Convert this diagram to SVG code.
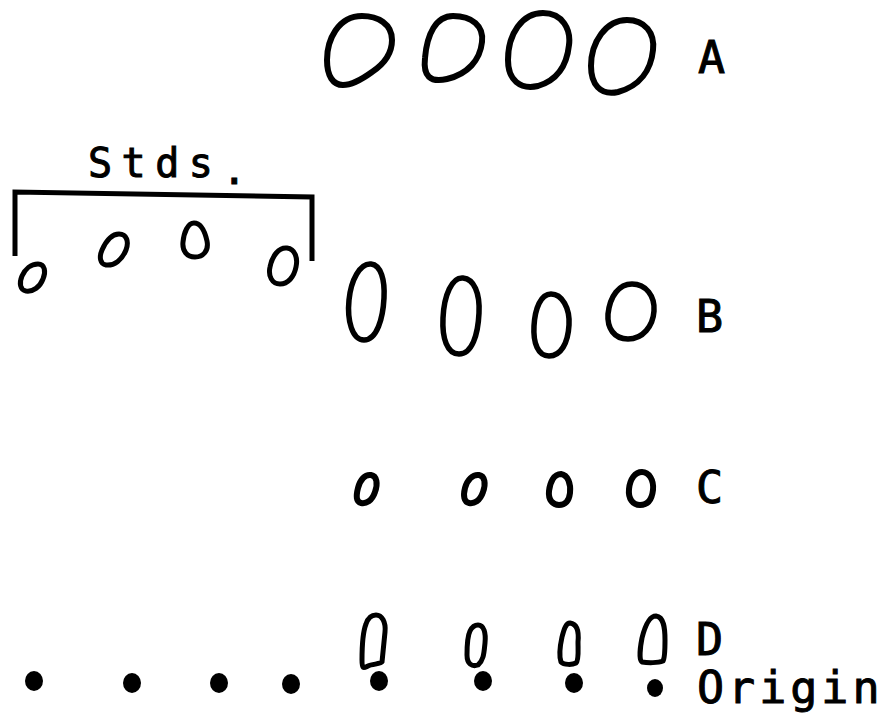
<svg xmlns="http://www.w3.org/2000/svg" width="886" height="714" viewBox="0 0 886 714">
  <style>
    .spot { fill: none; stroke: #000; stroke-linejoin: round; }
    .lg { stroke-width: 6; }
    .md { stroke-width: 5.5; }
    .th { stroke-width: 6; }
    .sm { stroke-width: 5; }
    .dot { fill: #000; }
    .lbl { font-family: "DejaVu Sans Mono", "Liberation Mono", monospace; font-size: 45px; fill: #000; stroke: #000; stroke-width: 1; letter-spacing: 4px; }
    .bracket { fill: none; stroke: #000; stroke-width: 5; stroke-linejoin: miter; }
  </style>
  <rect width="886" height="714" fill="#fff"/>

  <!-- solvent A: four large spots -->
  <g id="row-a">
    <path class="spot lg" d="M 362 16 C 378 16 392 24 392 40 C 392 54 384 64 372 72 C 361 80 352 85 343 85 C 333 85 327 76 327 60 C 327 40 338 16 362 16 Z"/>
    <path class="spot lg" d="M 453 16 C 472 16 484 26 482 42 C 480 60 468 74 447 79 C 430 83 423 76 425 58 C 427 34 436 16 453 16 Z"/>
    <path class="spot lg" d="M 543 13 C 563 13 571 30 569 45 C 567 64 558 80 538 86 C 520 90 508 80 508 60 C 508 34 522 13 543 13 Z"/>
    <path class="spot lg" d="M 627 20 C 645 20 655 33 653 50 C 651 70 640 86 618 92 C 600 96 591 84 591 66 C 591 42 606 20 627 20 Z"/>
    <text class="lbl" x="698" y="73">A</text>
  </g>

  <!-- reference standards with bracket -->
  <g id="standards">
    <text class="lbl" x="88" y="177" style="font-size:40px;letter-spacing:9.5px">Stds<tspan dy="7">.</tspan></text>
    <polyline class="bracket" points="15,256 15,192 312,197 312,261"/>
    <path class="spot sm" d="M 38 264 C 45 264 46 272 43 279 C 40 287 33 292 26 291 C 20 290 19 283 22 276 C 25 269 31 264 38 264 Z"/>
    <path class="spot sm" d="M 119 234 C 127 234 129 242 126 250 C 122 260 114 266 106 265 C 100 264 99 257 102 250 C 106 241 112 234 119 234 Z"/>
    <path class="spot sm" d="M 194 223 C 201 223 205 232 207 241 C 209 251 203 257 195 257 C 187 257 182 251 183 242 C 184 232 188 223 194 223 Z"/>
    <path class="spot sm" d="M 287 248 C 295 249 298 258 296 267 C 294 277 288 284 280 284 C 272 284 268 276 270 267 C 272 256 279 247 287 248 Z"/>
  </g>

  <!-- solvent B -->
  <g id="row-b">
    <path class="spot md" d="M 371 264 C 381 265 385 280 384 298 C 383 318 377 340 364 340 C 352 340 347 320 349 300 C 351 280 360 263 371 264 Z"/>
    <path class="spot md" d="M 463 278 C 474 279 480 293 479 313 C 478 335 472 354 459 354 C 447 354 442 338 443 318 C 444 295 452 277 463 278 Z"/>
    <path class="spot md" d="M 551 294 C 562 294 570 308 569 325 C 568 343 561 356 549 356 C 538 356 533 343 534 326 C 535 308 541 294 551 294 Z"/>
    <path class="spot md" d="M 632 284 C 646 284 655 296 654 311 C 653 326 643 339 628 339 C 614 339 607 328 608 314 C 610 296 619 284 632 284 Z"/>
    <text class="lbl" x="696" y="332">B</text>
  </g>

  <!-- solvent C -->
  <g id="row-c">
    <path class="spot th" d="M 371 475 C 377 476 378 484 375 492 C 372 501 366 504 361 503 C 356 502 356 496 358 488 C 360 480 365 474 371 475 Z"/>
    <path class="spot th" d="M 479 475 C 485 476 486 484 483 492 C 480 501 474 504 469 503 C 464 502 463 496 465 488 C 467 480 473 474 479 475 Z"/>
    <path class="spot th" d="M 561 474 C 568 475 571 484 570 493 C 569 501 565 505 559 505 C 553 505 548 500 549 491 C 550 482 554 474 561 474 Z"/>
    <path class="spot th" d="M 642 472 C 649 472 654 480 653 490 C 652 499 648 505 640 505 C 633 505 628 499 629 489 C 630 479 635 472 642 472 Z"/>
    <text class="lbl" x="696" y="503">C</text>
  </g>

  <!-- solvent D: streaked spots just above the origin -->
  <g id="row-d">
    <path class="spot sm" d="M 376 615 C 382 615 386 622 385 632 L 382 662 C 381 664 372 664 368 666 C 364 668 362 670 362 660 C 362 648 362 634 366 624 C 368 618 371 615 376 615 Z"/>
    <path class="spot sm" d="M 478 625 C 484 625 486 633 485 643 C 484 652 484 660 478 665 C 472 667 467 664 467 655 C 467 646 467 637 470 631 C 472 627 475 625 478 625 Z"/>
    <path class="spot sm" d="M 570 623 C 577 624 579 632 578 642 C 578 650 579 660 576 663 C 572 665 564 665 561 662 C 559 656 560 646 562 637 C 564 629 566 623 570 623 Z"/>
    <path class="spot sm" d="M 656 616 C 664 617 665 628 665 640 C 665 650 665 658 663 661 C 658 663 648 663 642 662 C 639 660 640 648 642 638 C 645 626 649 616 656 616 Z"/>
    <text class="lbl" x="696" y="655">D</text>
  </g>

  <!-- application points on the origin line -->
  <g id="origin">
    <ellipse class="dot" cx="34" cy="681" rx="9" ry="10"/>
    <ellipse class="dot" cx="132" cy="683" rx="9" ry="10"/>
    <ellipse class="dot" cx="219" cy="683" rx="9" ry="10"/>
    <ellipse class="dot" cx="291" cy="684" rx="9" ry="10"/>
    <ellipse class="dot" cx="379" cy="681" rx="9" ry="10"/>
    <ellipse class="dot" cx="483" cy="681" rx="9" ry="10"/>
    <ellipse class="dot" cx="574" cy="683" rx="9" ry="10"/>
    <ellipse class="dot" cx="655" cy="688" rx="8" ry="9"/>
    <text class="lbl" x="697" y="703">Origin</text>
  </g>
</svg>
